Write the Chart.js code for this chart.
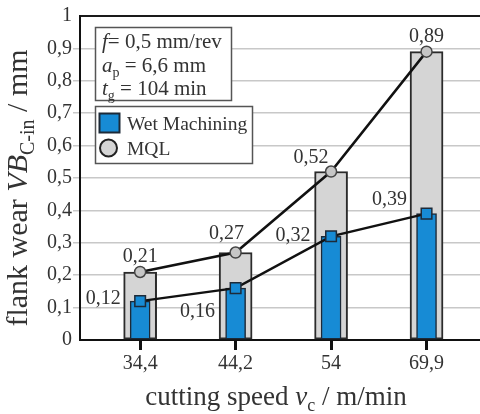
<!DOCTYPE html>
<html><head><meta charset="utf-8">
<script src="https://cdn.jsdelivr.net/npm/chart.js@4.4.1/dist/chart.umd.min.js"></script>
<style>html,body{margin:0;padding:0;background:#fff}#wrap{width:480px;height:414px;position:relative}</style>
</head><body><div id="wrap"><canvas id="c"></canvas></div>
<script>
// ---- data ----
const categories = ['34,4', '44,2', '54', '69,9'];
const wetValues = [0.12, 0.16, 0.32, 0.39];
const mqlValues = [0.21, 0.27, 0.52, 0.89];
const seriesNames = ['Wet Machining', 'MQL'];
const yMin = 0, yMax = 1, yStep = 0.1;
const xTitleRuns = [['cutting speed ', 'n'], ['v', 'i'], ['c', 's'], [' / m/min', 'n']];
const yTitleRuns = [['flank wear ', 'n'], ['VB', 'i'], ['C-in', 's'], [' / mm', 'n']];
const paramRuns = [
  [['f', 'i'], ['= 0,5 mm/rev', 'n']],
  [['a', 'i'], ['p', 's'], [' = 6,6 mm', 'n']],
  [['t', 'i'], ['g', 's'], [' = 104 min', 'n']]
];

// ---- style ----
const FAM = '"Liberation Serif", "DejaVu Serif", serif';
const TXT = '#333';
const BLUE = '#178bd5';
const GRAY = '#d5d5d5';
const wetLabelOffsets = [[-37, -2], [-38, 24], [-38, -1], [-37, -14]];
const mqlLabelOffsets = [[0, -15], [-9, -19], [-20, -13.5], [0, -15]];

function fmt(v) { return (Math.round(v * 100) / 100).toString().replace('.', ','); }

function drawRuns(ctx, runs, x, y, size, align) {
  const subSize = Math.round(size * 0.68);
  const parts = runs.map(([t, s]) => {
    const f = s === 'i' ? `italic ${size}px ${FAM}` : s === 's' ? `${subSize}px ${FAM}` : `${size}px ${FAM}`;
    ctx.font = f;
    return { t, f, w: ctx.measureText(t).width, dy: s === 's' ? size * 0.22 : 0 };
  });
  const total = parts.reduce((a, p) => a + p.w, 0);
  let cx = align === 'center' ? x - total / 2 : x;
  ctx.textAlign = 'left';
  ctx.textBaseline = 'alphabetic';
  for (const p of parts) { ctx.font = p.f; ctx.fillText(p.t, cx, y + p.dy); cx += p.w; }
}

const decorPlugin = {
  id: 'decor',
  afterDatasetsDraw(chart) {
    const ctx = chart.ctx;
    ctx.save();
    ctx.fillStyle = TXT;
    ctx.textAlign = 'center';
    ctx.textBaseline = 'middle';
    ctx.font = `20px ${FAM}`;
    const sets = [[3, wetValues, wetLabelOffsets], [2, mqlValues, mqlLabelOffsets]];
    for (const [di, vals, offs] of sets) {
      const meta = chart.getDatasetMeta(di);
      meta.data.forEach((pt, i) => {
        ctx.fillText(fmt(vals[i]), pt.x + offs[i][0], pt.y + offs[i][1]);
      });
    }
    ctx.restore();
  },
  afterDraw(chart) {
    const ctx = chart.ctx;
    ctx.save();
    // parameter box
    ctx.fillStyle = '#fff';
    ctx.fillRect(95, 27, 137, 74);
    ctx.strokeStyle = '#555';
    ctx.lineWidth = 1.5;
    ctx.strokeRect(95.5, 27.5, 136, 73);
    ctx.fillStyle = TXT;
    const bl = [48, 72, 95];
    paramRuns.forEach((r, i) => drawRuns(ctx, r, 102, bl[i], 21, 'left'));
    // legend box
    ctx.fillStyle = '#fff';
    ctx.fillRect(95, 106, 158, 58);
    ctx.strokeStyle = '#555';
    ctx.strokeRect(95.5, 106.5, 157, 57);
    ctx.fillStyle = BLUE;
    ctx.fillRect(99.5, 113.5, 20, 19);
    ctx.strokeStyle = '#1d2a38';
    ctx.lineWidth = 2;
    ctx.strokeRect(99.5, 113.5, 20, 19);
    ctx.beginPath();
    ctx.arc(108.5, 148, 8.5, 0, Math.PI * 2);
    ctx.fillStyle = GRAY;
    ctx.fill();
    ctx.strokeStyle = '#222';
    ctx.stroke();
    ctx.fillStyle = TXT;
    ctx.font = `19.5px ${FAM}`;
    ctx.textAlign = 'left';
    ctx.textBaseline = 'alphabetic';
    ctx.fillText(seriesNames[0], 127, 130);
    ctx.fillText(seriesNames[1], 127, 155);
    // axis titles
    drawRuns(ctx, xTitleRuns, 276, 405, 27, 'center');
    ctx.translate(27, 188);
    ctx.rotate(-Math.PI / 2);
    drawRuns(ctx, yTitleRuns, 0, 0, 30, 'center');
    ctx.restore();
  }
};

function build() {
  Chart.defaults.font.family = FAM;
  const idx = categories.map((_, i) => i);
  new Chart(document.getElementById('c'), {
    type: 'bar',
    data: {
      datasets: [
        { type: 'bar', label: seriesNames[1], data: idx.map(i => ({ x: i, y: mqlValues[i] })),
          backgroundColor: GRAY, borderColor: '#2b2b2b', borderWidth: 2, borderSkipped: false,
          barThickness: 33, grouped: false, order: 4 },
        { type: 'bar', label: seriesNames[0], data: idx.map(i => ({ x: i, y: wetValues[i] })),
          backgroundColor: BLUE, borderColor: '#1d2a38', borderWidth: 1.5, borderSkipped: false,
          barThickness: 20, grouped: false, order: 3 },
        { type: 'line', label: seriesNames[1], data: idx.map(i => ({ x: i, y: mqlValues[i] })),
          borderColor: '#111', borderWidth: 2.5, pointStyle: 'circle', pointRadius: 5.5,
          pointBackgroundColor: '#c6c6c6', pointBorderColor: '#444', pointBorderWidth: 1.5, order: 1 },
        { type: 'line', label: seriesNames[0], data: idx.map(i => ({ x: i, y: wetValues[i] })),
          borderColor: '#111', borderWidth: 2.5, pointStyle: 'rect', pointRadius: 7.5,
          pointBackgroundColor: BLUE, pointBorderColor: '#1d2a38', pointBorderWidth: 1.5, order: 0 }
      ]
    },
    options: {
      responsive: true, maintainAspectRatio: false, animation: false,
      layout: { autoPadding: false, padding: { top: 16, right: 0, left: 0, bottom: 0 } },
      plugins: { legend: { display: false }, tooltip: { enabled: false } },
      scales: {
        x: {
          type: 'linear', min: -0.63, max: 3.56, offset: false,
          afterBuildTicks: s => { s.ticks = idx.map(i => ({ value: i })); },
          afterFit: s => { s.height = 74; s.paddingLeft = 0; s.paddingRight = 0; },
          border: { display: true, color: '#111', width: 2 },
          grid: { offset: false, drawOnChartArea: false, drawTicks: true, tickLength: 10, tickWidth: 3, tickColor: '#111' },
          ticks: { color: TXT, font: { family: FAM, size: 20 }, padding: 2, maxRotation: 0,
            callback: v => categories[v] }
        },
        y: {
          min: yMin, max: yMax,
          afterFit: s => { s.width = 80; s.paddingTop = 0; s.paddingBottom = 0; },
          border: { display: true, color: '#111', width: 2 },
          grid: {
            color: c => (c.tick && Math.abs(c.tick.value - yMax) < 1e-6) ? '#1a1a1a' : '#c8c8c8',
            lineWidth: c => (c.tick && Math.abs(c.tick.value - yMax) < 1e-6) ? 2 : 1.5,
            tickColor: c => (c.tick && (Math.abs(c.tick.value - yMax) < 1e-6 || Math.abs(c.tick.value - yMin) < 1e-6)) ? 'rgba(0,0,0,0)' : '#c8c8c8',
            tickLength: 7, drawTicks: true
          },
          ticks: { stepSize: yStep, color: TXT, font: { family: FAM, size: 20 }, padding: 1,
            callback: v => fmt(v) }
        }
      }
    },
    plugins: [decorPlugin]
  });
}

Promise.all([
  document.fonts.load('20px "Liberation Serif"'),
  document.fonts.load('italic 20px "Liberation Serif"')
]).then(build, build);
</script></body></html>
